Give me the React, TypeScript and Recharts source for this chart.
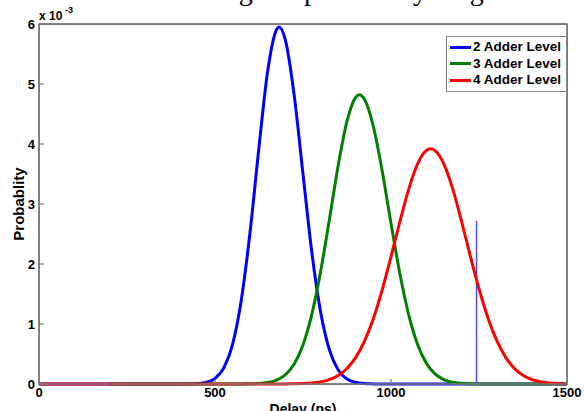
import { Label, Legend, Line, LineChart, ReferenceArea, XAxis, YAxis } from "recharts";

// delay in ps, probability in units of 1e-3
const blueX = [0, 100, 400, 425, 450, 475, 500, 525, 550, 575, 600, 625, 650, 675, 682, 700, 725, 750, 775, 800, 825, 850, 875, 900, 925, 950, 975, 1500];
const blueY = [0, 0, 0, 0.001, 0.007, 0.027, 0.092, 0.267, 0.662, 1.407, 2.55, 3.95, 5.23, 5.91, 5.95, 5.73, 4.81, 3.5, 2.2, 1.2, 0.57, 0.233, 0.083, 0.025, 0.007, 0.002, 0, 0];

const greenX = [200, 575, 600, 625, 650, 675, 700, 725, 750, 775, 800, 825, 850, 875, 900, 910, 925, 950, 975, 1000, 1025, 1050, 1075, 1100, 1125, 1150, 1175, 1200, 1225, 1250, 1275, 1500];
const greenY = [0, 0, 0.003, 0.008, 0.025, 0.065, 0.154, 0.333, 0.652, 1.161, 1.873, 2.74, 3.64, 4.38, 4.78, 4.82, 4.74, 4.29, 3.55, 2.68, 1.845, 1.162, 0.668, 0.351, 0.168, 0.074, 0.029, 0.011, 0.004, 0.001, 0, 0];

const redX = [0, 675, 700, 725, 750, 775, 800, 825, 850, 875, 900, 925, 950, 975, 1000, 1025, 1050, 1075, 1100, 1113, 1125, 1150, 1175, 1200, 1225, 1250, 1275, 1300, 1325, 1350, 1375, 1400, 1425, 1450, 1475, 1500];
const redY = [0, 0, 0.001, 0.003, 0.007, 0.016, 0.035, 0.073, 0.141, 0.258, 0.443, 0.717, 1.093, 1.57, 2.12, 2.7, 3.24, 3.66, 3.89, 3.92, 3.89, 3.67, 3.26, 2.72, 2.14, 1.59, 1.11, 0.73, 0.452, 0.263, 0.145, 0.075, 0.036, 0.017, 0.007, 0.003];

const markerX = [1243, 1243];
const markerY = [0, 2.72];

const seriesNames = ["2 Adder Level", "3 Adder Level", "4 Adder Level"];
const seriesColors = ["#0000ff", "#008000", "#ff0000"];

const xDomain = [0, 1500];
const yDomain = [0, 6];
const xTicks = [0, 500, 1000, 1500];
const yTicks = [0, 1, 2, 3, 4, 5, 6];

const toPoints = (xs: number[], ys: number[]) => xs.map((x, i) => ({ x, p: ys[i] }));

const blueData = toPoints(blueX, blueY);
const greenData = toPoints(greenX, greenY);
const redData = toPoints(redX, redY);
const markerData = toPoints(markerX, markerY);

const FONT = "'Liberation Sans', Arial, sans-serif";
const AXIS = "#7c7c7c";
const axisLine = { stroke: AXIS, strokeWidth: 1.5 };
const tickLine = { stroke: AXIS, strokeWidth: 1.2 };
const tickFont = { fontFamily: FONT, fontSize: 13, fontWeight: 700, fill: "#000" };

function LegendBox() {
  return (
    <div
      style={{
        border: "1px solid #808080",
        background: "#fff",
        padding: "2px 3px 2px 3px",
        fontFamily: FONT,
        fontWeight: 700,
        fontSize: 13.5,
        lineHeight: "16.5px",
        width: 113,
      }}
    >
      {seriesNames.map((name, i) => (
        <div key={name} style={{ display: "flex", alignItems: "center", whiteSpace: "nowrap" }}>
          <span style={{ display: "inline-block", width: 21, height: 3, background: seriesColors[i], marginRight: 2 }} />
          {name}
        </div>
      ))}
    </div>
  );
}

export default function App() {
  return (
    <div style={{ position: "fixed", left: 0, top: 0, width: 584, height: 411, background: "#fff", overflow: "hidden" }}>
      {/* plot box behind the chart, MATLAB style */}
      <div
        style={{
          position: "absolute",
          left: 39,
          top: 24,
          width: 529,
          height: 361,
          boxSizing: "border-box",
          border: "1px solid #8a8a8a",
        }}
      />
      <LineChart width={584} height={411} margin={{ top: 23, right: 16, left: 0, bottom: 0 }}>
        <XAxis
          xAxisId="b"
          dataKey="x"
          type="number"
          domain={xDomain}
          ticks={xTicks}
          height={27}
          axisLine={axisLine}
          tickLine={tickLine}
          tickSize={-5}
          tickMargin={9}
          tick={tickFont}
          interval={0}
        >
          <Label
            value="Delay (ps)"
            position="insideBottom"
            offset={-3}
            style={{ fontFamily: FONT, fontSize: 14, fontWeight: 700, fill: "#000" }}
          />
        </XAxis>
        <XAxis
          xAxisId="t"
          orientation="top"
          dataKey="x"
          type="number"
          domain={xDomain}
          ticks={xTicks}
          height={1}
          axisLine={axisLine}
          tickLine={tickLine}
          tickSize={-5}
          tick={false}
          interval={0}
        />
        <YAxis
          yAxisId="l"
          dataKey="p"
          type="number"
          domain={yDomain}
          ticks={yTicks}
          width={39}
          axisLine={axisLine}
          tickLine={tickLine}
          tickSize={-5}
          tickMargin={9}
          tick={tickFont}
          interval={0}
        />
        <YAxis
          yAxisId="r"
          orientation="right"
          dataKey="p"
          type="number"
          domain={yDomain}
          ticks={yTicks}
          width={1}
          axisLine={axisLine}
          tickLine={tickLine}
          tickSize={-5}
          tick={false}
          interval={0}
        />
        <ReferenceArea
          xAxisId="b"
          yAxisId="l"
          x1={xDomain[0]}
          x2={xDomain[1]}
          y1={yDomain[0]}
          y2={yDomain[1]}
          fill="#fff"
          fillOpacity={0}
          stroke={AXIS}
          strokeWidth={1.5}
          strokeOpacity={1}
          ifOverflow="visible"
        />
        <Legend
          layout="vertical"
          align="center"
          verticalAlign="middle"
          wrapperStyle={{ top: 36, left: 446, width: 121 }}
          content={() => <LegendBox />}
        />
        <Line xAxisId="b" yAxisId="l" data={blueData} dataKey="p" type="monotone" stroke={seriesColors[0]} strokeWidth={3} dot={false} isAnimationActive={false} />
        <Line xAxisId="b" yAxisId="l" data={greenData} dataKey="p" type="monotone" stroke={seriesColors[1]} strokeWidth={3} dot={false} isAnimationActive={false} />
        <Line xAxisId="t" yAxisId="r" data={markerData} dataKey="p" type="linear" stroke="#4a4aff" strokeWidth={1.5} dot={false} isAnimationActive={false} />
        <Line xAxisId="b" yAxisId="l" data={redData} dataKey="p" type="monotone" stroke={seriesColors[2]} strokeWidth={3} dot={false} isAnimationActive={false} />
      </LineChart>
      <svg width={584} height={411} style={{ position: "absolute", left: 0, top: 0, pointerEvents: "none" }}>
        <text x={311} y={0} textAnchor="middle" style={{ fontFamily: "'Liberation Serif', 'Times New Roman', serif", fontSize: 28 }}>
          Adder Stage vs probability range
        </text>
        <text x={39} y={20} style={{ fontFamily: FONT, fontSize: 12, fontWeight: 700 }}>
          x 10
        </text>
        <text x={65} y={13} style={{ fontFamily: FONT, fontSize: 9, fontWeight: 700 }}>
          -3
        </text>
        <text
          transform="translate(18,204) rotate(-90)"
          textAnchor="middle"
          dominantBaseline="central"
          style={{ fontFamily: FONT, fontSize: 15, fontWeight: 700 }}
        >
          Probablity
        </text>
      </svg>
    </div>
  );
}
